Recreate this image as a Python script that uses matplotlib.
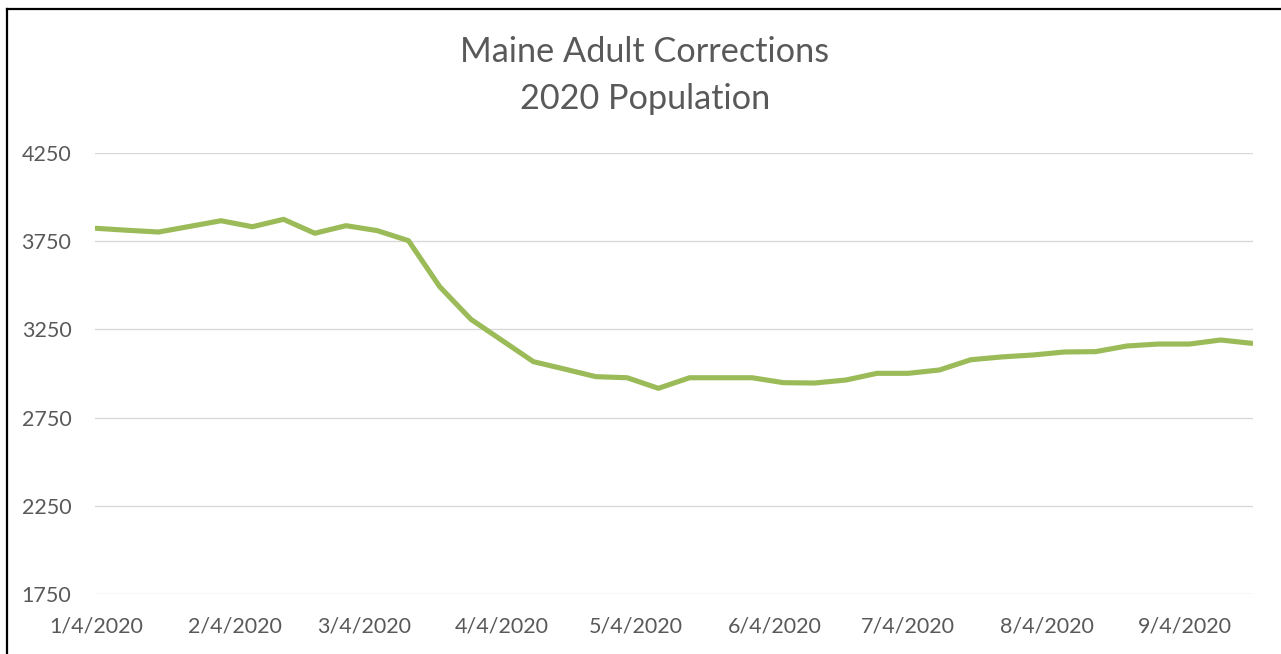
import matplotlib
matplotlib.use("Agg")
import matplotlib.pyplot as plt
import matplotlib.dates as mdates
from matplotlib.lines import Line2D
from matplotlib.ticker import FuncFormatter
import numpy as np

title_line1 = "Maine Adult Corrections"
title_line2 = "2020 Population"

dates = ["2020-01-04", "2020-01-11", "2020-01-18", "2020-01-25", "2020-02-01",
         "2020-02-08", "2020-02-15", "2020-02-22", "2020-02-29", "2020-03-07",
         "2020-03-14", "2020-03-21", "2020-03-28", "2020-04-04", "2020-04-11",
         "2020-04-18", "2020-04-25", "2020-05-02", "2020-05-09", "2020-05-16",
         "2020-05-23", "2020-05-30", "2020-06-06", "2020-06-13", "2020-06-20",
         "2020-06-27", "2020-07-04", "2020-07-11", "2020-07-18", "2020-07-25",
         "2020-08-01", "2020-08-08", "2020-08-15", "2020-08-22", "2020-08-29",
         "2020-09-05", "2020-09-12", "2020-09-19"]

population = [3823, 3812, 3802, 3834, 3866, 3832, 3874, 3795, 3838, 3810,
              3753, 3492, 3307, 3187, 3067, 3025, 2982, 2976, 2916, 2976,
              2976, 2976, 2948, 2946, 2963, 3001, 3001, 3020, 3078, 3094,
              3105, 3122, 3124, 3156, 3167, 3167, 3190, 3171]

tick_dates = ["2020-01-04", "2020-02-04", "2020-03-04", "2020-04-04", "2020-05-04",
              "2020-06-04", "2020-07-04", "2020-08-04", "2020-09-04"]
y_ticks = [1750, 2250, 2750, 3250, 3750, 4250]

plt.rcParams['font.family'] = ['Lato', 'DejaVu Sans']
text_color = "#595959"

W, H = 1281, 654
fig = plt.figure(figsize=(W / 100, H / 100), dpi=100)
fig.patch.set_facecolor("white")

left, right, top, bottom = 95, 1253, 153, 594
ax = fig.add_axes([left / W, 1 - bottom / H, (right - left) / W, (bottom - top) / H])

x = np.array(dates, dtype="datetime64[D]").astype("datetime64[ns]")
xnum = mdates.date2num(x)
ax.plot(xnum, population, color="#9BBB59", linewidth=3.7, solid_joinstyle="round",
        solid_capstyle="round", zorder=3)

ax.set_ylim(1750, 4250)
ax.set_yticks(y_ticks)
ax.set_yticklabels([str(v) for v in y_ticks])
ax.set_xlim(xnum[0] - 0.25, xnum[-1] + 0.25)
tnum = mdates.date2num(np.array(tick_dates, dtype="datetime64[D]").astype("datetime64[ns]"))
ax.set_xticks(tnum)
ax.xaxis.set_major_formatter(FuncFormatter(
    lambda v, p: "{}/{}/{}".format(mdates.num2date(v).month, mdates.num2date(v).day, mdates.num2date(v).year)))

ax.grid(axis="y", color="#D9D9D9", linewidth=1.0, zorder=0)
ax.grid(axis="x", visible=False)
for s in ax.spines.values():
    s.set_visible(False)
ax.tick_params(axis="both", length=0, colors=text_color, labelsize=15.5)
ax.tick_params(axis="y", pad=17)
ax.tick_params(axis="x", pad=16)
ax.set_facecolor("white")

fig.text(645 / W, 1 - 52 / H, title_line1, ha="center", va="center",
         fontsize=24.7, color=text_color)
fig.text(645 / W, 1 - 99 / H, title_line2, ha="center", va="center",
         fontsize=24.7, color=text_color)

# outer border (left and top)
fig.add_artist(Line2D([6.5 / W, 6.5 / W], [0, 1 - 8.5 / H], color="black",
                      linewidth=1.6, transform=fig.transFigure))
fig.add_artist(Line2D([6.5 / W, 1], [1 - 8.5 / H, 1 - 8.5 / H], color="black",
                      linewidth=1.6, transform=fig.transFigure))

fig.savefig("out.png", dpi=100, facecolor="white")
